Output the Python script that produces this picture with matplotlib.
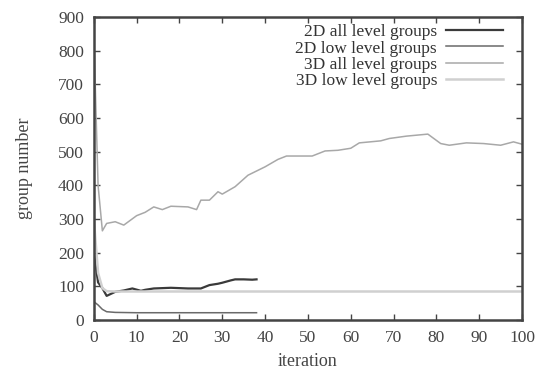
import matplotlib
matplotlib.use("Agg")
import matplotlib.pyplot as plt

# 2D all level groups
x_2d_all = [0, 1, 2, 3, 4, 5, 7, 9, 11, 12, 14, 16, 18, 20, 22, 25, 27, 29, 30, 32, 33, 35, 37, 38]
y_2d_all = [200, 112, 95, 72, 78, 84, 88, 94, 87, 90, 94, 95, 96, 95, 94, 94, 104, 108, 111, 118, 121, 121, 120, 121]

# 2D low level groups
x_2d_low = [0, 1, 2, 3, 5, 10, 20, 30, 38]
y_2d_low = [55, 45, 32, 25, 23, 22, 22, 22, 22]

# 3D all level groups
x_3d_all = [0, 1, 2, 3, 5, 7, 10, 12, 14, 16, 18, 22, 24, 25, 27, 29, 30, 33, 36, 40, 43, 45, 51, 54, 57, 60,
            62, 67, 69, 73, 78, 81, 83, 87, 91, 95, 98, 100]
y_3d_all = [850, 400, 265, 287, 292, 282, 310, 320, 336, 328, 338, 336, 328, 356, 356, 381, 374, 396, 430, 455, 477, 487,
            487, 502, 504, 510, 526, 532, 539, 546, 552, 524, 519, 526, 524, 519, 529, 522]

# 3D low level groups
x_3d_low = [0, 1, 2, 3, 5, 20, 40, 60, 80, 100]
y_3d_low = [300, 140, 95, 86, 85, 85, 85, 85, 85, 85]

labels = ["2D all level groups", "2D low level groups", "3D all level groups", "3D low level groups"]
x_ticks = [0, 10, 20, 30, 40, 50, 60, 70, 80, 90, 100]
y_ticks = [0, 100, 200, 300, 400, 500, 600, 700, 800, 900]

plt.rcParams['font.family'] = ['Liberation Serif', 'DejaVu Serif']

fig = plt.figure(figsize=(5.36, 3.74), dpi=100)
ax = fig.add_axes([0.175, 0.144, 0.799, 0.811])

ax.plot(x_2d_all, y_2d_all, color="#3a3a3a", lw=1.6, label=labels[0])
ax.plot(x_2d_low, y_2d_low, color="#6a6a6a", lw=1.1, label=labels[1])
ax.plot(x_3d_all, y_3d_all, color="#a8a8a8", lw=1.1, label=labels[2])
ax.plot(x_3d_low, y_3d_low, color="#d0d0d0", lw=1.8, label=labels[3])

ax.set_xlim(0, 100)
ax.set_ylim(0, 900)
ax.set_xticks(x_ticks)
ax.set_yticks(y_ticks)
ax.tick_params(direction="in", top=True, right=True, length=4, width=1, colors="#444444",
               labelsize=12.5, pad=7)
for s in ax.spines.values():
    s.set_color("#444444")
    s.set_linewidth(1.8)

ax.set_xlabel("iteration", fontsize=13, color="#444444", labelpad=5)
ax.set_ylabel("group number", fontsize=13, color="#444444", labelpad=18)

leg = ax.legend(loc="upper right", frameon=False, markerfirst=False, fontsize=12.5,
                handlelength=3.3, labelspacing=0.0, borderaxespad=0.2, handletextpad=0.5,
                bbox_to_anchor=(0.98, 1.01))
for t in leg.get_texts():
    t.set_color("#333333")

fig.savefig("out.png", dpi=100)
